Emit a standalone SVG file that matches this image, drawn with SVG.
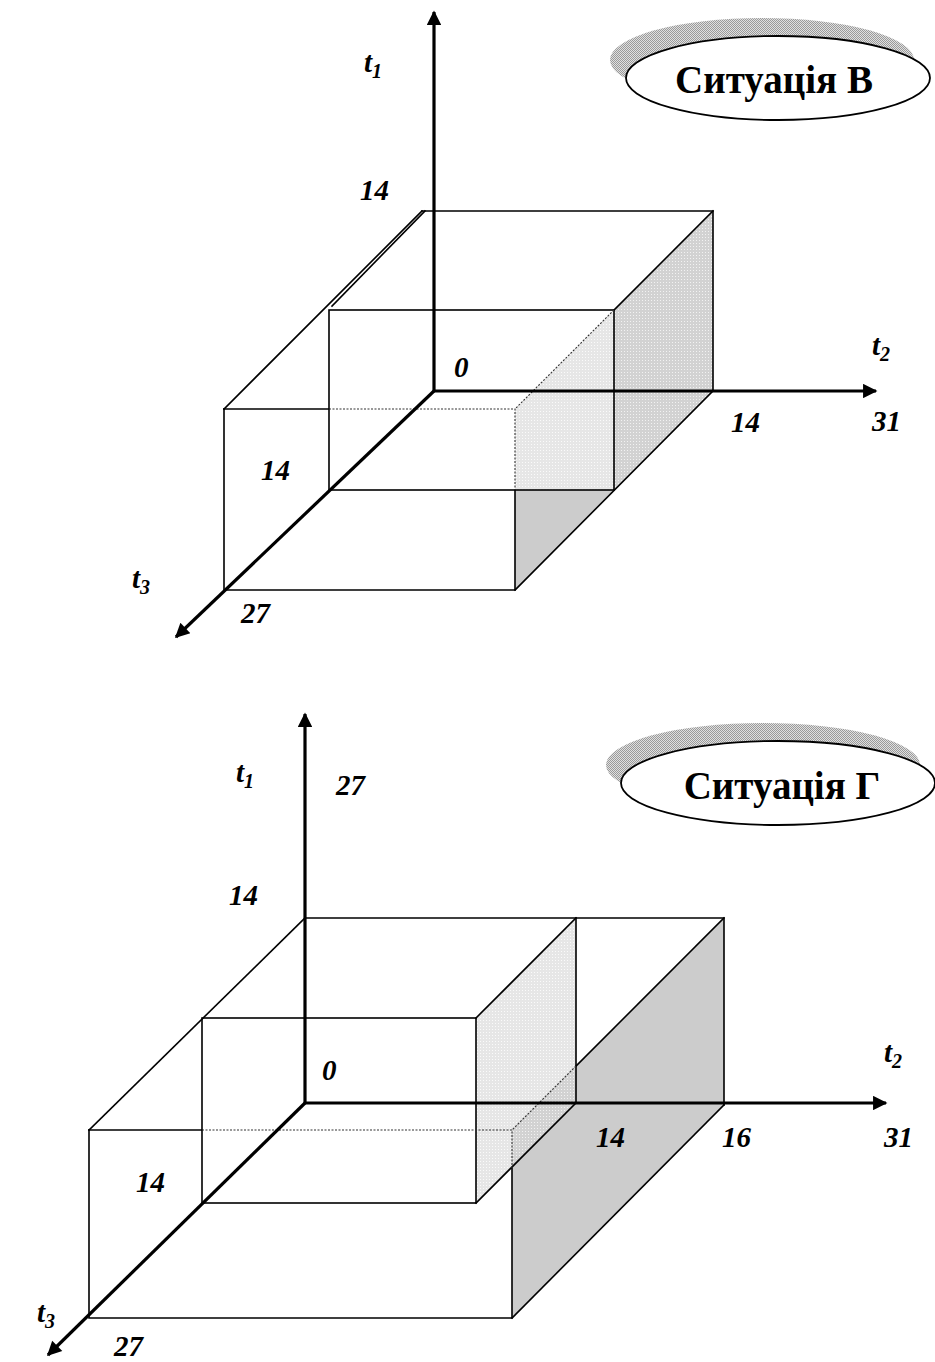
<svg xmlns="http://www.w3.org/2000/svg" width="935" height="1362" viewBox="0 0 935 1362">
<style>
.ln{fill:none;stroke:#000;stroke-width:1.6;stroke-linecap:square}
.dt{fill:none;stroke:#333;stroke-width:1.1;stroke-dasharray:2 1.5}
.ax{fill:none;stroke:#000;stroke-width:3.2}
.lb{font-family:"Liberation Serif","Times New Roman",serif;font-weight:bold;font-style:italic;font-size:29px;fill:#000}
.sb{font-size:20px}
.tt{font-family:"Liberation Serif","Times New Roman",serif;font-weight:bold;font-size:39px;fill:#000;text-anchor:middle}
.el{fill:#fff;stroke:#000;stroke-width:1.8}
</style>
<defs>
<pattern id="dLight" width="3" height="3" patternUnits="userSpaceOnUse">
<rect width="3" height="3" fill="#e6e6e6"/><rect width="1" height="1" fill="#fafafa"/>
</pattern>
<pattern id="dDark" width="3" height="3" patternUnits="userSpaceOnUse">
<rect width="3" height="3" fill="#d2d2d2"/><rect width="1" height="1" fill="#f2f2f2"/>
</pattern>
<pattern id="chk" width="2" height="2" patternUnits="userSpaceOnUse">
<rect width="2" height="2" fill="#e0e0e0"/><rect width="1" height="1" fill="#9a9a9a"/><rect x="1" y="1" width="1" height="1" fill="#9a9a9a"/>
</pattern>
<marker id="arr" viewBox="0 0 10 10" refX="9" refY="5" markerWidth="5.5" markerHeight="4.5" orient="auto" markerUnits="strokeWidth">
<path d="M0,0 L10,5 L0,10 z" fill="#000"/>
</marker>
</defs>

<g id="figure-B">
<g id="B-shading">
<polygon points="614,310 713,211 713,391 614,490" fill="url(#dDark)"/>
<polygon points="515,409 614,310 614,490 515,490" fill="url(#dLight)"/>
<polygon points="515,490 614,490 515,590" fill="#cccccc"/>
</g>
<g id="B-box">
<path class="ln" d="M422,211 H713 V391"/>
<path class="ln" d="M224,409 L422,211"/>
<path class="ln" d="M332,306 L425,211"/>
<rect class="ln" x="329" y="310" width="285" height="180"/>
<path class="ln" d="M713,211 L614,310"/>
<path class="dt" d="M614,310 L515,409"/>
<path class="ln" d="M713,391 L515,590"/>
<path class="ln" d="M224,409 V590 H515 V490"/>
<path class="ln" d="M224,409 H329"/>
<path class="dt" d="M329,409 H515 V490"/>
</g>
<g id="B-axes">
<path class="ax" d="M434,391 V12" marker-end="url(#arr)"/>
<path class="ax" d="M434,391 H876" marker-end="url(#arr)"/>
<path class="ax" d="M434,391 L176,637" marker-end="url(#arr)"/>
</g>
<g id="B-labels">
<text class="lb" x="364" y="72">t<tspan class="sb" dy="6">1</tspan></text>
<text class="lb" x="360" y="200">14</text>
<text class="lb" x="454" y="377">0</text>
<text class="lb" x="872" y="355">t<tspan class="sb" dy="6">2</tspan></text>
<text class="lb" x="731" y="432">14</text>
<text class="lb" x="872" y="431">31</text>
<text class="lb" x="261" y="480">14</text>
<text class="lb" x="132" y="588">t<tspan class="sb" dy="6">3</tspan></text>
<text class="lb" x="241" y="623">27</text>
</g>
<g id="B-title">
<ellipse cx="762" cy="60" rx="152" ry="42" fill="url(#chk)"/>
<ellipse class="el" cx="778" cy="78" rx="152" ry="42"/>
<text class="tt" x="774" y="93">Ситуація В</text>
</g>
</g>

<g id="figure-G">
<g id="G-shading">
<polygon points="476,1018 576,918 576,1103 476,1203" fill="url(#dLight)"/>
<polygon points="512,1130 724,918 724,1105 512,1318" fill="#cccccc"/>
<polygon points="512,1130 576,1066 576,1103 512,1167" fill="url(#dDark)"/>
</g>
<g id="G-box">
<path class="ln" d="M305,918 H724 V1105"/>
<path class="ln" d="M576,918 V1103"/>
<path class="ln" d="M89,1130 L305,918"/>
<rect class="ln" x="202" y="1018" width="274" height="185"/>
<path class="ln" d="M576,918 L476,1018"/>
<path class="ln" d="M576,1103 L476,1203"/>
<path class="ln" d="M724,918 L576,1066"/>
<path class="dt" d="M576,1066 L512,1130"/>
<path class="ln" d="M724,1105 L512,1318"/>
<path class="ln" d="M89,1130 V1318 H512 V1168"/>
<path class="ln" d="M89,1130 H202"/>
<path class="dt" d="M202,1130 H512 V1168"/>
</g>
<g id="G-axes">
<path class="ax" d="M305,1103 V714" marker-end="url(#arr)"/>
<path class="ax" d="M305,1103 H886" marker-end="url(#arr)"/>
<path class="ax" d="M305,1103 L48,1355" marker-end="url(#arr)"/>
</g>
<g id="G-labels">
<text class="lb" x="236" y="782">t<tspan class="sb" dy="6">1</tspan></text>
<text class="lb" x="336" y="795">27</text>
<text class="lb" x="229" y="905">14</text>
<text class="lb" x="322" y="1080">0</text>
<text class="lb" x="884" y="1062">t<tspan class="sb" dy="6">2</tspan></text>
<text class="lb" x="596" y="1147">14</text>
<text class="lb" x="722" y="1147">16</text>
<text class="lb" x="884" y="1147">31</text>
<text class="lb" x="136" y="1192">14</text>
<text class="lb" x="37" y="1322">t<tspan class="sb" dy="6">3</tspan></text>
<text class="lb" x="114" y="1356">27</text>
</g>
<g id="G-title">
<ellipse cx="763" cy="765" rx="157" ry="42" fill="url(#chk)"/>
<ellipse class="el" cx="778" cy="783" rx="157" ry="42"/>
<text class="tt" x="782" y="799">Ситуація Г</text>
</g>
</g>
</svg>
